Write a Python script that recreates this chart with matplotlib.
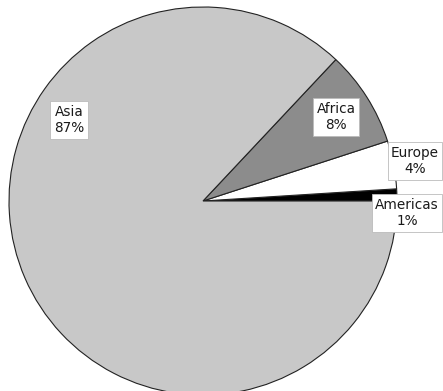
import matplotlib
matplotlib.use("Agg")
import matplotlib.pyplot as plt

regions = ["Americas", "Europe", "Africa", "Asia"]
shares = [1, 4, 8, 87]
colors = ["#000000", "#ffffff", "#8c8c8c", "#c8c8c8"]

W, H = 443, 391
cx, cy, R = 203, 201, 194

fig = plt.figure(figsize=(W / 100, H / 100), dpi=100)
ax = fig.add_axes([0, 0, 1, 1])
ax.pie(shares, colors=colors, startangle=0, counterclock=True,
       wedgeprops=dict(edgecolor="#222222", linewidth=0.8), radius=1.0)
ax.set_aspect("auto")
ax.set_xlim((0 - cx) / R, (W - cx) / R)
ax.set_ylim((cy - H) / R, (cy - 0) / R)
ax.axis("off")

# label centres in pixel coords
label_px = {"Asia": (69, 120), "Africa": (336, 117), "Europe": (415, 161), "Americas": (407, 213)}
for name, val in zip(regions, shares):
    px, py = label_px[name]
    ax.text((px - cx) / R, (cy - py) / R, f"{name}\n{val}%", ha="center", va="center",
            fontsize=9.8, family="DejaVu Sans", color="#1a1a1a", linespacing=1.25,
            bbox=dict(boxstyle="square,pad=0.25", facecolor="white", edgecolor="#bbbbbb", linewidth=0.6))

fig.savefig("out.png", dpi=100)
